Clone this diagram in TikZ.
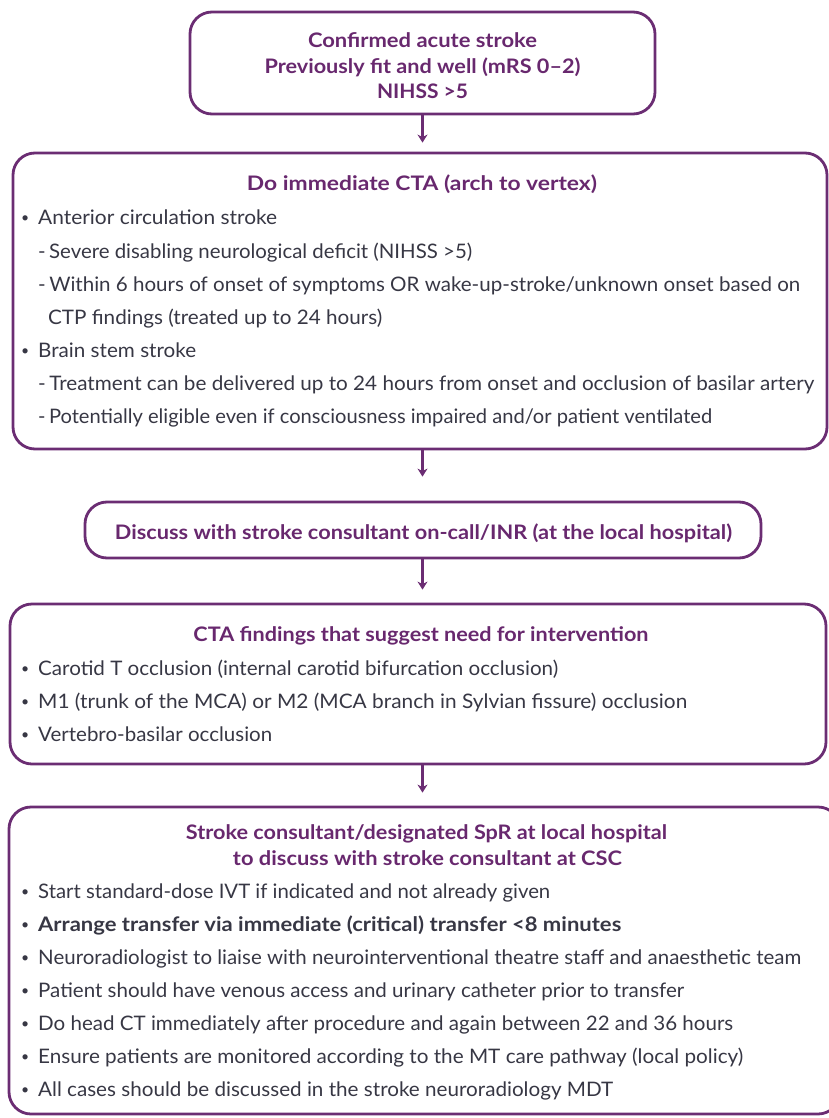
\documentclass[tikz,border=0pt]{standalone}
\usepackage{fontspec}
\setmainfont{Lato}
\usepackage{graphicx}
\usetikzlibrary{arrows.meta}

\definecolor{boxpurple}{RGB}{107,45,115}
\definecolor{titlepurple}{RGB}{104,40,110}
\definecolor{textgrey}{RGB}{55,55,68}

% squeeze a line to the width it has in the chart
\newcommand{\fitw}[2]{\resizebox{#1pt}{\height}{#2}}
\newcommand{\bul}{\llap{\raisebox{1.5pt}{\scalebox{.7}{\textbullet}}\hspace{9pt}}}

\begin{document}
\begin{tikzpicture}[x=1pt, y=-1pt, >={Stealth[length=8pt,width=10pt,inset=2.5pt]}]
		\tikzstyle{box} = [draw=boxpurple, line width=2.8pt, rounded corners=22pt]
		\tikzstyle{ttl} = [anchor=base, inner sep=0pt, text=titlepurple, font=\fontsize{20}{24}\selectfont\bfseries]
		\tikzstyle{txt} = [anchor=base west, inner sep=0pt, text=textgrey, font=\fontsize{20}{24}\selectfont]
		\tikzstyle{arr} = [->, draw=boxpurple, line width=2.2pt]

		\useasboundingbox (0,0) rectangle (829,1118);

		% boxes
		\node[box, minimum width=465pt, minimum height=102pt] (b1) at (422.5,63) {};
		\node[box, minimum width=814pt, minimum height=296pt] (b2) at (420,301) {};
		\node[box, minimum width=676pt, minimum height=56pt] (b3) at (423,530) {};
		\node[box, minimum width=816pt, minimum height=160pt] (b4) at (418,684) {};
		\node[box, minimum width=831pt, minimum height=307pt] (b5) at (424.5,960.5) {};

		% box 1
		\node[ttl] (t1a) at (422.5,48) {\fitw{229}{Confirmed acute stroke}};
		\node[ttl] (t1b) at (422.5,74) {\fitw{316}{Previously fit and well (mRS 0–2)}};
		\node[ttl] (t1c) at (422.5,99) {\fitw{91}{NIHSS >5}};

		% box 2
		\node[ttl] (t2) at (422,190) {\fitw{350}{Do immediate CTA (arch to vertex)}};
		\node[txt] (l2a) at (38,224) {\bul\fitw{239}{Anterior circulation stroke}};
		\node[txt] (l2b) at (38,258) {\fitw{434}{-\,Severe disabling neurological deficit (NIHSS >5)}};
		\node[txt] (l2c) at (38,291) {\fitw{762}{-\,Within 6 hours of onset of symptoms OR wake-up-stroke/unknown onset based on}};
		\node[txt] (l2d) at (48,324) {\fitw{334}{CTP findings (treated up to 24 hours)}};
		\node[txt] (l2e) at (38,357) {\bul\fitw{158}{Brain stem stroke}};
		\node[txt] (l2f) at (38,390) {\fitw{776}{-\,Treatment can be delivered up to 24 hours from onset and occlusion of basilar artery}};
		\node[txt] (l2g) at (38,423) {\fitw{674}{-\,Potentially eligible even if consciousness impaired and/or patient ventilated}};

		% box 3
		\node[ttl] (t3) at (423.5,539) {\fitw{617}{Discuss with stroke consultant on-call/INR (at the local hospital)}};

		% box 4
		\node[ttl] (t4) at (421,641) {\fitw{455}{CTA findings that suggest need for intervention}};
		\node[txt] (l4a) at (38,675) {\bul\fitw{520}{Carotid T occlusion (internal carotid bifurcation occlusion)}};
		\node[txt] (l4b) at (38,708) {\bul\fitw{649}{M1 (trunk of the MCA) or M2 (MCA branch in Sylvian fissure) occlusion}};
		\node[txt] (l4c) at (38,741) {\bul\fitw{234}{Vertebro-basilar occlusion}};

		% box 5
		\node[ttl] (t5a) at (426.5,839) {\fitw{481}{Stroke consultant/designated SpR at local hospital}};
		\node[ttl] (t5b) at (427.5,865) {\fitw{389}{to discuss with stroke consultant at CSC}};
		\node[txt] (l5a) at (38,898) {\bul\fitw{512}{Start standard-dose IVT if indicated and not already given}};
		\node[txt] (l5b) at (38,931) {\bul\fitw{583}{\bfseries Arrange transfer via immediate (critical) transfer <8 minutes}};
		\node[txt] (l5c) at (38,964) {\bul\fitw{763}{Neuroradiologist to liaise with neurointerventional theatre staff and anaesthetic team}};
		\node[txt] (l5d) at (38,997) {\bul\fitw{646}{Patient should have venous access and urinary catheter prior to transfer}};
		\node[txt] (l5e) at (38,1030) {\bul\fitw{695}{Do head CT immediately after procedure and again between 22 and 36 hours}};
		\node[txt] (l5f) at (38,1063) {\bul\fitw{705}{Ensure patients are monitored according to the MT care pathway (local policy)}};
		\node[txt] (l5g) at (38,1096) {\bul\fitw{575}{All cases should be discussed in the stroke neuroradiology MDT}};

		% arrows
		\draw [arr, shorten >=9pt] (b1.south) -- (b1.south |- b2.north);
		\draw [arr, shorten >=24pt] (b1.south |- b2.south) -- (b1.south |- b3.north);
		\draw [arr, shorten >=13pt] (b1.south |- b3.south) -- (b1.south |- b4.north);
		\draw [arr, shorten >=13pt] (b1.south |- b4.south) -- (b1.south |- b5.north);
\end{tikzpicture}
\end{document}
